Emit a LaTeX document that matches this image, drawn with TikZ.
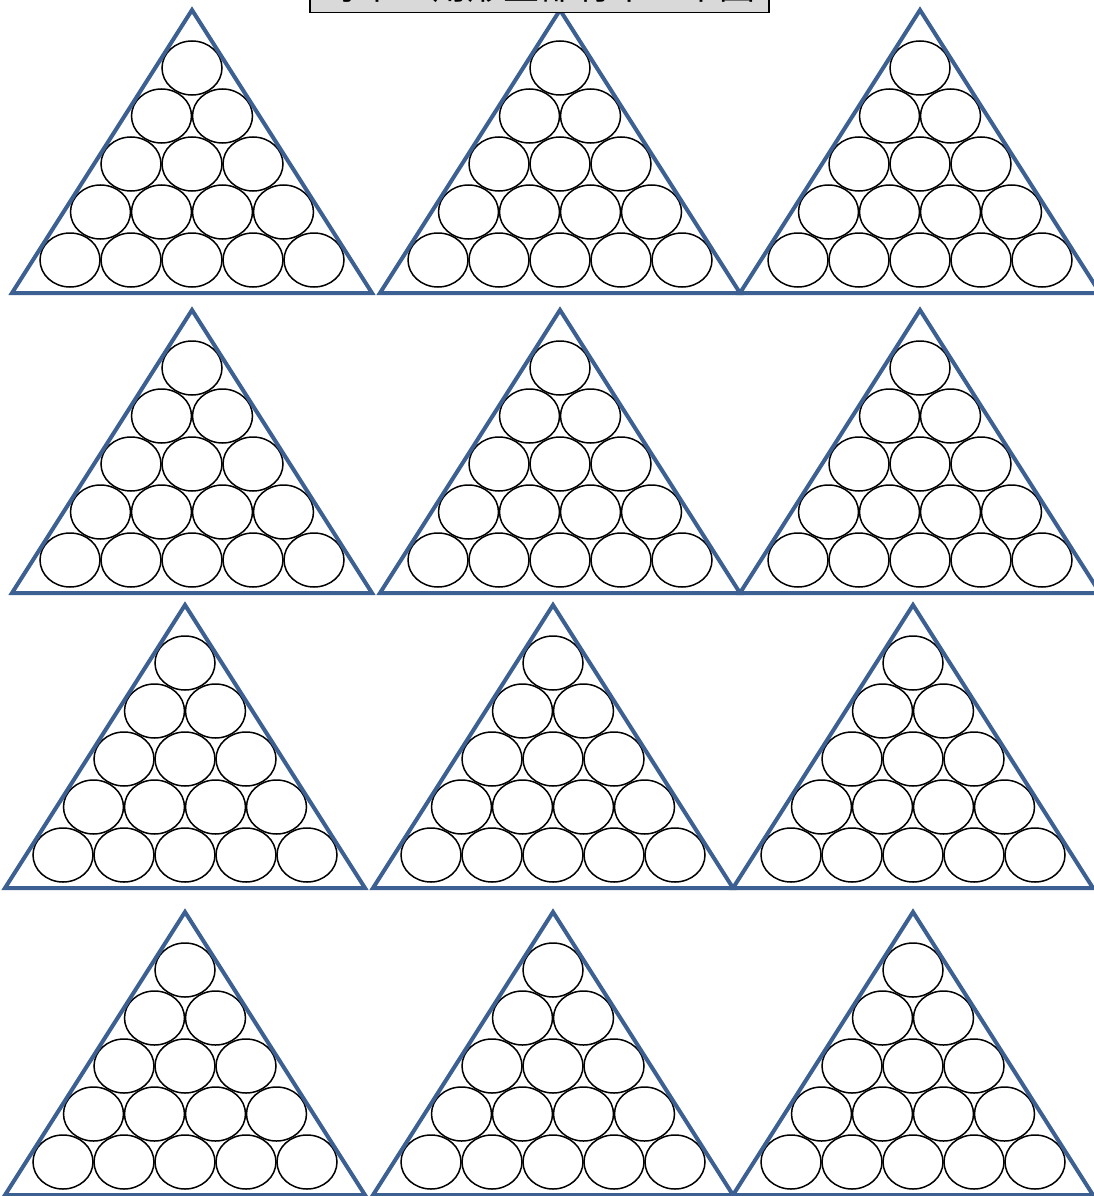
\documentclass[tikz,border=0pt]{standalone}
\usepackage{fontspec}
\newfontfamily\cjk{Noto Sans CJK SC}
\definecolor{triblue}{RGB}{60,96,145}
\definecolor{titlegray}{RGB}{217,217,217}
\tikzset{
  tri/.style={draw=triblue,line width=4pt,line join=miter},
  ball/.style={draw=black,line width=1.5pt,fill=white},
  rack/.pic={
    \foreach \r in {0,...,4}{
      \foreach \k in {0,...,\r}{
        \draw[ball] ({(\k-\r/2)*61},{58+48*\r}) ellipse [x radius=30, y radius=27];
      }
    }
    \draw[tri] (0,0) -- (180,283) -- (-180,283) -- cycle;
  },
  titlebox/.style={draw=black,line width=1.5pt,fill=titlegray}
}
\begin{document}
\begin{tikzpicture}[x=1pt,y=-1pt]
\useasboundingbox (0,0) rectangle (1094,1196);
% row 1
\pic at (192,10) {rack};
\pic at (560,10) {rack};
\pic at (920,10) {rack};
% row 2
\pic at (192,310) {rack};
\pic at (560,310) {rack};
\pic at (920,310) {rack};
% row 3
\pic at (185,605) {rack};
\pic at (553,605) {rack};
\pic at (913,605) {rack};
% row 4
\pic at (185,912) {rack};
\pic at (553,912) {rack};
\pic at (913,912) {rack};
% title (mostly cut off at the top edge)
\draw[titlebox] (310,-40) rectangle (769,12.5);
\node[anchor=base,inner sep=0pt,font=\cjk\fontsize{36}{36}\selectfont] (title) at (539.5,0) {每个三角形里都有十五个圆};
\end{tikzpicture}
\end{document}
